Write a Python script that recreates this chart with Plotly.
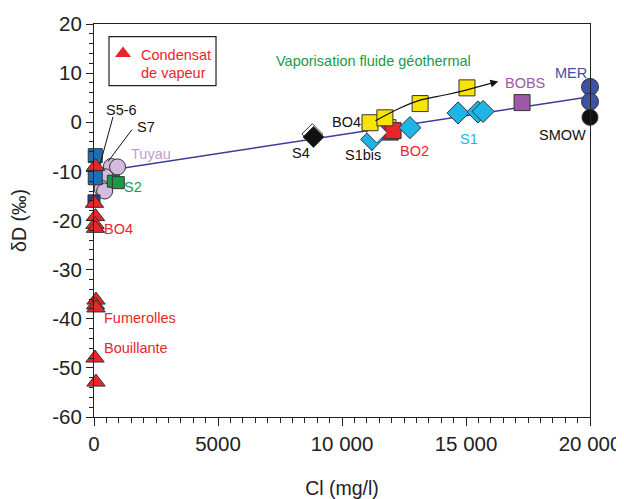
import plotly.graph_objects as go

# ---------------- data ----------------
riv_x = [50, 50]
riv_y = [-6.8, -11.3]
bo2dark_x = [0]
bo2dark_y = [-16.0]

cond_x = [60, 20, 60, 40, 80, 60, 80, 40, 80, 60]
cond_y = [-9.0, -16.5, -19.2, -20.8, -36.2, -37.2, -37.8, -48.0, -52.9, -21.6]

tuyau_x = [700, 950, 450, 330, 430]
tuyau_y = [-9.0, -9.1, -11.1, -13.5, -14.0]

s2_x = [780, 980]
s2_y = [-12.0, -12.3]

s4_x = [8800, 8850]
s4_y = [-2.4, -3.0]

s1bis_x = [11400]
s1bis_y = [-2.1]

s1_x = [11200, 12740, 14680, 15480, 15690]
s1_y = [-3.5, -1.1, 1.9, 2.1, 2.2]

bo2_x = [11950, 12060]
bo2_y = [-2.0, -1.7]

bo4_x = [11130, 11850, 11730, 13150, 15040]
bo4_y = [-0.1, -1.1, 0.9, 3.8, 7.0]

bobs_x = [17260]
bobs_y = [4.0]

mer_x = [20000, 20000]
mer_y = [7.2, 4.2]
smow_x = [20000]
smow_y = [1.0]

mix_x = [800, 20000]
mix_y = [-9.6, 5.2]

vap_x = [11350, 12300, 13150, 14200, 15040, 16000]
vap_y = [0.3, 2.8, 4.5, 5.6, 6.6, 7.9]

x_ticks = [0, 5000, 10000, 15000, 20000]
x_tick_labels = ["0", "5000", "10 000", "15 000", "20 000"]
y_ticks = [20, 10, 0, -10, -20, -30, -40, -50, -60]
y_tick_labels = ["20", "10", "0", "-10", "-20", "-30", "-40", "-50", "-60"]

# ---------------- colours ----------------
RED = "#e8262c"
YEL = "#f7e400"
CYAN = "#1fb4e6"
BLUE = "#1f6db5"
LILAC = "#d2bbdc"
GREEN = "#1a9a4a"
PURPLE = "#9b59a6"
MERC = "#3f51a3"
EDGE = "#333333"
FONT = "Liberation Sans, Arial, sans-serif"

fig = go.Figure()

def pts(x, y, sym, size, color, edge=EDGE, w=1):
    fig.add_trace(go.Scatter(x=x, y=y, mode="markers", cliponaxis=False,
                             marker=dict(symbol=sym, size=size, color=color,
                                         line=dict(color=edge, width=w)),
                             showlegend=False, hoverinfo="skip"))

# mixing line
fig.add_trace(go.Scatter(x=mix_x, y=mix_y, mode="lines",
                         line=dict(color="#3b3d98", width=1.5),
                         showlegend=False, hoverinfo="skip"))

pts(tuyau_x, tuyau_y, "circle", 16, LILAC)
pts(s2_x, s2_y, "square", 12, GREEN)
pts(bo2dark_x, bo2dark_y, "square", 12, "#2b3a8f")
pts(riv_x, riv_y, "square", 14, BLUE)
pts(cond_x, cond_y, "triangle-up", 16, RED)
pts(s4_x[:1], s4_y[:1], "diamond", 16, "white")
pts(s4_x[1:], s4_y[1:], "diamond", 16, "#111111")
pts(bo4_x[1:2], bo4_y[1:2], "square", 16, YEL)
pts(bo2_x, bo2_y, "square", 16, RED)
pts(s1_x, s1_y, "diamond", 17, CYAN)
pts(s1bis_x, s1bis_y, "diamond", 16, "white")
pts([bo4_x[0], bo4_x[2], bo4_x[3], bo4_x[4]], [bo4_y[0], bo4_y[2], bo4_y[3], bo4_y[4]],
    "square", 16, YEL)
pts(bobs_x, bobs_y, "square", 16, PURPLE)
pts(mer_x, mer_y, "circle", 17, MERC)
pts(smow_x, smow_y, "circle", 16, "#111111")

# vaporisation path
fig.add_trace(go.Scatter(x=vap_x, y=vap_y, mode="lines", line=dict(color="#111111", width=1.2, shape="spline"),
                         showlegend=False, hoverinfo="skip"))

fig.add_annotation(x=16300, y=8.3, ax=vap_x[-1], ay=vap_y[-1], xref="x", yref="y",
                   axref="x", ayref="y", showarrow=True, arrowhead=2, arrowsize=1.3,
                   arrowwidth=1.2, arrowcolor="#111111", text="")

# legend box
fig.add_shape(type="rect", x0=605, x1=4920, y0=7.46, y1=17.45, layer="below",
              line=dict(color="#222222", width=1.2), fillcolor="white")
fig.add_trace(go.Scatter(x=[1170], y=[14.0], mode="markers",
                         marker=dict(symbol="triangle-up", size=14, color=RED, line=dict(width=0)),
                         showlegend=False, hoverinfo="skip"))

# leader lines
fig.add_shape(type="line", x0=766, y0=1.1, x1=242, y1=-8.6, line=dict(color="#111111", width=1))
fig.add_shape(type="line", x0=1532, y0=-1.5, x1=565, y1=-8.0, line=dict(color="#111111", width=1))

def px2x(px):
    return (px - 94) / 0.0248

def px2y(py):
    return (122.6 - py) / 4.906

labels = [
    ("Condensat", 139, 55, "left", RED, 14.5),
    ("de vapeur", 139, 73, "left", RED, 14.5),
    ("Rivières", 84, 148, "right", "#2a80c4", 14.5),
    ("BO2", 84, 183, "right", RED, 14.5),
    ("Tuyau", 129, 154, "left", "#c49bd0", 14.5),
    ("S5-6", 104, 110, "left", "#111111", 14.5),
    ("S7", 135, 127, "left", "#111111", 14.5),
    ("S2", 122, 187, "left", GREEN, 14.5),
    ("BO4", 102, 229, "left", RED, 14.5),
    ("Fumerolles", 102, 318, "left", RED, 14.5),
    ("Bouillante", 102, 348, "left", RED, 14.5),
    ("Vaporisation fluide géothermal", 274, 61, "left", GREEN, 14.5),
    ("BO4", 330, 122, "left", "#111111", 14.5),
    ("S4", 290, 153, "left", "#111111", 14.5),
    ("S1bis", 343, 155, "left", "#111111", 14.5),
    ("BO2", 398, 151, "left", RED, 14.5),
    ("S1", 458, 139, "left", CYAN, 14.5),
    ("BOBS", 503, 83, "left", PURPLE, 14.5),
    ("MER", 553, 73, "left", MERC, 14.5),
    ("SMOW", 537, 135, "left", "#111111", 14.5),
]
for t, lx, ly, anc, col, fs in labels:
    fig.add_annotation(x=px2x(lx), y=px2y(ly), xref="x", yref="y", text=t, showarrow=False,
                       xanchor=anc, yanchor="middle", font=dict(color=col, size=fs, family=FONT))

axis_common = dict(showgrid=False, zeroline=False, showline=True, linecolor="#222222", linewidth=1.2,
                   mirror=True, ticks="outside", tickcolor="#222222", tickwidth=1.2, automargin=False,
                   tickfont=dict(size=20.5, color="#222222", family=FONT))

fig.update_xaxes(range=[0, 20000], tickvals=x_ticks, ticktext=x_tick_labels, ticklen=8,
                 minor=dict(dtick=500, ticks="outside", ticklen=5, tickcolor="#222222", tickwidth=1),
                 title=dict(text="Cl (mg/l)", font=dict(size=19.5, color="#222222", family=FONT), standoff=33),
                 **axis_common)
fig.update_yaxes(range=[-60, 20], tickvals=y_ticks, ticktext=y_tick_labels, ticklen=7,
                 minor=dict(dtick=2, ticks="outside", ticklen=4, tickcolor="#222222", tickwidth=1),
                 title=dict(text="δD (‰)", font=dict(size=19.5, color="#222222", family=FONT), standoff=20),
                 **axis_common)

# the page adds an 8 px body margin, so the figure is 8 px smaller and shifted
fig.update_layout(width=616, height=491, margin=dict(l=86, r=34, t=16, b=82),
                  plot_bgcolor="white", paper_bgcolor="white", showlegend=False,
                  font=dict(family=FONT))

fig.write_html("out.html")
